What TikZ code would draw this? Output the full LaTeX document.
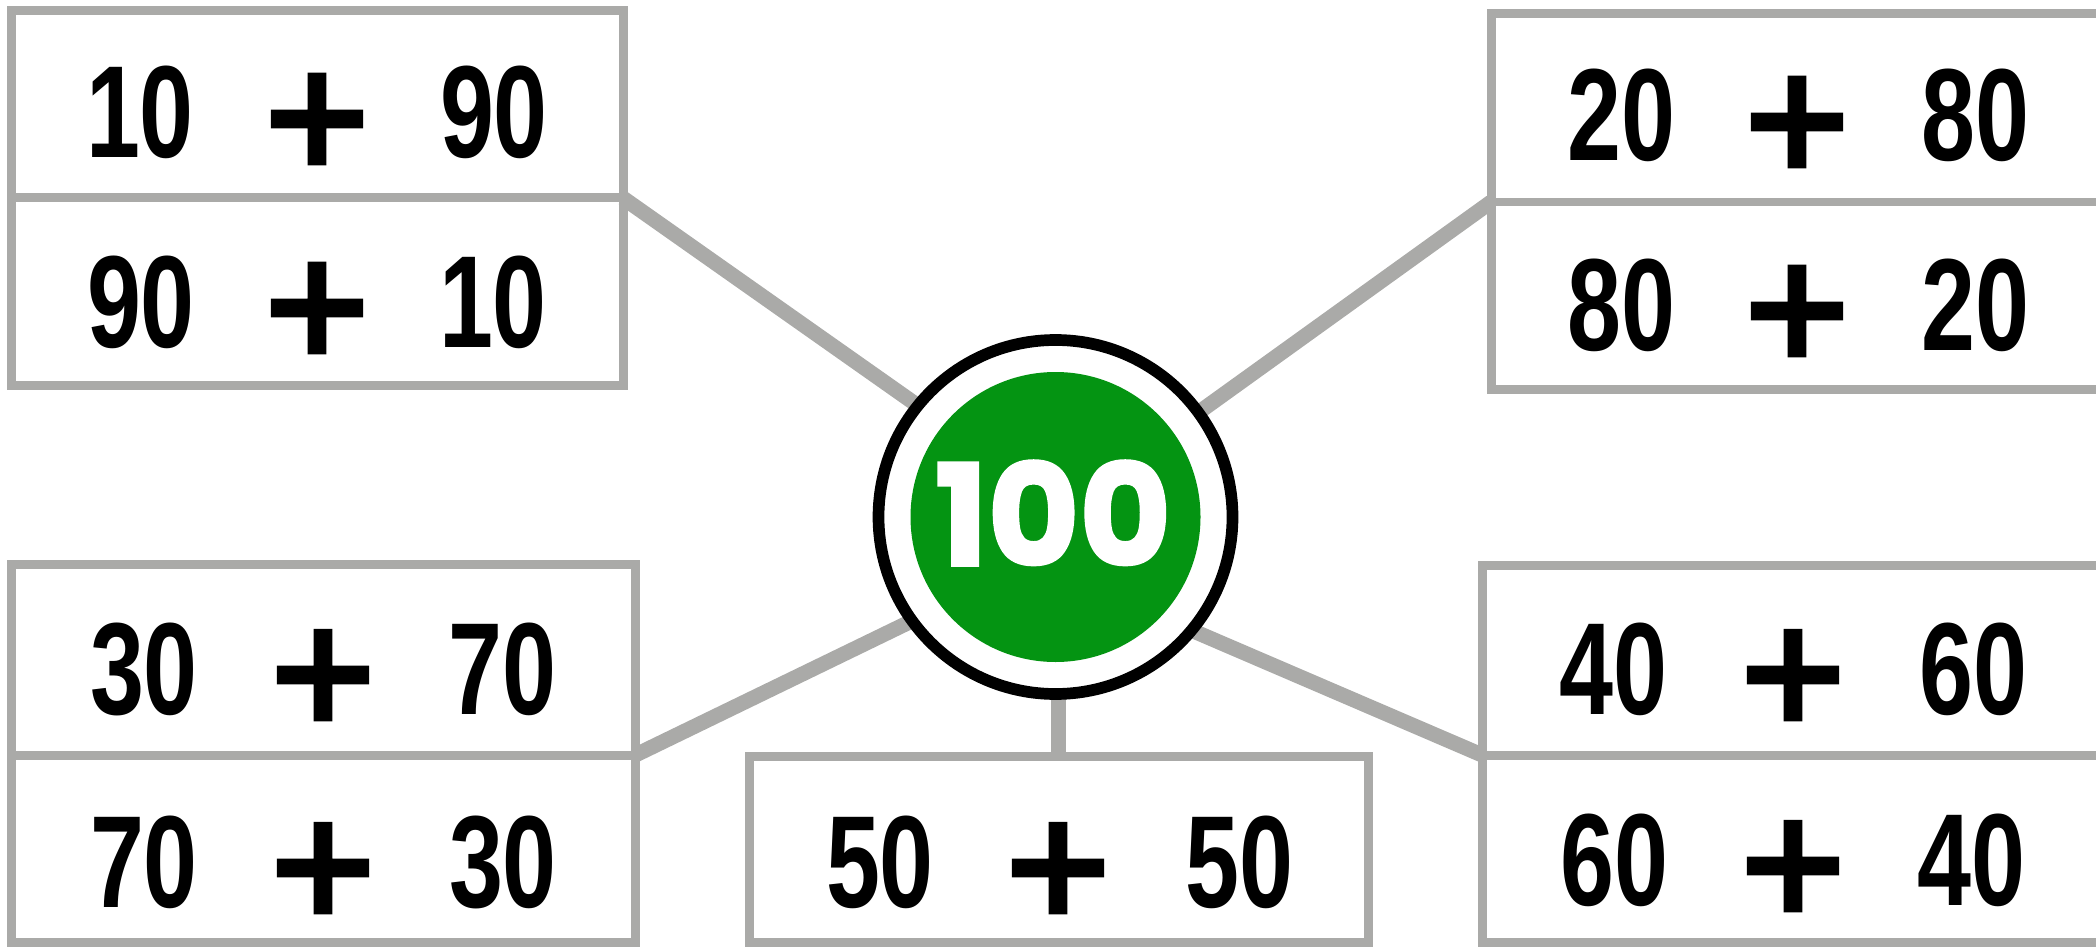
\documentclass[tikz,border=0pt]{standalone}
\usepackage{fontspec}
\newfontfamily\numfont[FakeStretch=0.74]{Liberation Sans}
\newfontfamily\plusfont[FakeBold=1.5]{DejaVu Sans}
\newfontfamily\popfont[FakeBold=2]{Poppins}
\definecolor{linegray}{RGB}{170,170,168}
\definecolor{ctrgreen}{RGB}{4,148,18}
\tikzset{
  cell/.style={draw=linegray, line width=0.09cm, rectangle, inner sep=0pt, outer sep=0pt, anchor=north west},
  num/.style={font={\numfont\bfseries\fontsize{37.3pt}{40pt}\selectfont}, inner sep=0pt, anchor=base},
  plussign/.style={font={\plusfont\bfseries\fontsize{41pt}{44pt}\selectfont}, inner sep=0pt},
  link/.style={draw=linegray, line width=0.15cm},
}
\begin{document}
\begin{tikzpicture}
\useasboundingbox (0,0) rectangle (20.96,-9.47);
\clip (0,0) rectangle (20.96,-9.47);
% cells
\node[cell, minimum width=6.12cm, minimum height=1.875cm] (tlA) at (0.11,-0.105) {};
\node[cell, minimum width=6.12cm, minimum height=1.87cm] (tlB) at (0.11,-1.98) {};
\node[cell, minimum width=6.12cm, minimum height=1.88cm] (trA) at (14.91,-0.14) {};
\node[cell, minimum width=6.12cm, minimum height=1.87cm] (trB) at (14.91,-2.02) {};
\node[cell, minimum width=6.235cm, minimum height=1.91cm] (blA) at (0.12,-5.64) {};
\node[cell, minimum width=6.235cm, minimum height=1.87cm] (blB) at (0.12,-7.55) {};
\node[cell, minimum width=6.23cm, minimum height=1.90cm] (brA) at (14.82,-5.65) {};
\node[cell, minimum width=6.23cm, minimum height=1.87cm] (brB) at (14.82,-7.55) {};
\node[cell, minimum width=6.19cm, minimum height=1.86cm] (mid) at (7.49,-7.56) {};
% texts
\node[num] (tlA1) at (1.40,-1.58) {10};
\node[plussign] (tlAp) at (3.17,-1.19) {+};
\node[num] (tlA2) at (4.94,-1.58) {90};
\node[num] (tlB1) at (1.41,-3.47) {90};
\node[plussign] (tlBp) at (3.17,-3.08) {+};
\node[num] (tlB2) at (4.93,-3.47) {10};
\node[num] (trA1) at (16.21,-1.61) {20};
\node[plussign] (trAp) at (17.97,-1.22) {+};
\node[num] (trA2) at (19.75,-1.61) {80};
\node[num] (trB1) at (16.21,-3.50) {80};
\node[plussign] (trBp) at (17.97,-3.11) {+};
\node[num] (trB2) at (19.75,-3.50) {20};
\node[num] (blA1) at (1.44,-7.14) {30};
\node[plussign] (blAp) at (3.23,-6.75) {+};
\node[num] (blA2) at (5.025,-7.14) {70};
\node[num] (blB1) at (1.44,-9.07) {70};
\node[plussign] (blBp) at (3.23,-8.68) {+};
\node[num] (blB2) at (5.03,-9.07) {30};
\node[num] (brA1) at (16.13,-7.14) {40};
\node[plussign] (brAp) at (17.93,-6.75) {+};
\node[num] (brA2) at (19.73,-7.14) {60};
\node[num] (brB1) at (16.14,-9.05) {60};
\node[plussign] (brBp) at (17.93,-8.66) {+};
\node[num] (brB2) at (19.71,-9.05) {40};
\node[num] (mid1) at (8.80,-9.07) {50};
\node[plussign] (midp) at (10.58,-8.68) {+};
\node[num] (mid2) at (12.39,-9.07) {50};
% connectors
\coordinate (ctr) at (10.555,-5.17);
\coordinate (aimTL) at (10.56,-5.03);
\coordinate (aimTR) at (10.56,-5.15);
\coordinate (aimBL) at (10.56,-5.51);
\coordinate (aimBR) at (10.56,-5.72);
\draw[link] (tlA.south east) -- (aimTL);
\draw[link] (trA.south west) -- (aimTR);
\draw[link] (blA.south east) -- (aimBL);
\draw[link] (brA.south west) -- (aimBR);
\draw[link] (mid.north) -- (mid.north |- ctr);
% centre
\node[circle, draw=black, line width=0.117cm, fill=white, minimum size=3.54cm, inner sep=0pt] (ring) at (ctr) {};
\node[circle, fill=ctrgreen, minimum size=2.9cm, inner sep=0pt] (disc) at (ctr) {};
\node[font={\popfont\bfseries\fontsize{40pt}{44pt}\selectfont}, text=white, inner sep=0pt] (hundred) at (10.53,-5.13) {100};
\end{tikzpicture}
\end{document}
